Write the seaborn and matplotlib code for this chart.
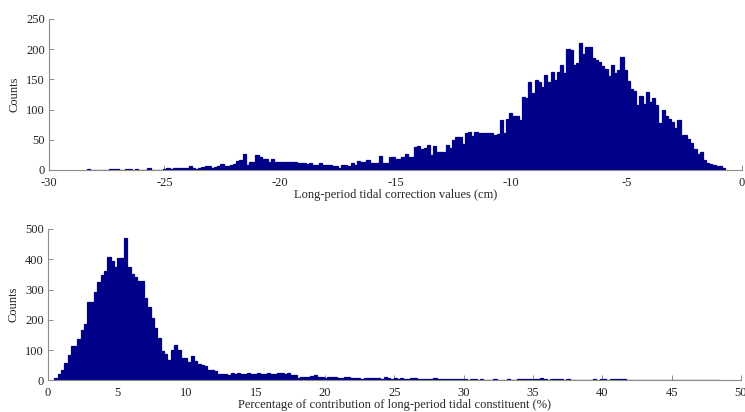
import numpy as np
import pandas as pd
import matplotlib
matplotlib.use("Agg")
import matplotlib.pyplot as plt
import seaborn as sns

# bin ranges (first / last bar edges)
corr_lo, corr_hi = -28.35, -0.72
pct_lo, pct_hi = 0.45, 48.45

# counts per bin, long-period tidal correction values (cm)
corr_counts = [
    2, 0, 0, 0, 0, 0, 0, 2, 2, 1, 0, 0, 1, 1, 0, 1, 0, 0, 0, 4,
    0, 0, 0, 0, 1, 3, 2, 3, 3, 4, 3, 3, 6, 3, 2, 4, 5, 6, 7, 4,
    5, 6, 10, 6, 7, 8, 10, 15, 17, 26, 9,
    13, 13, 25, 22, 18, 18, 14, 18, 14, 14, 14, 13, 14, 14, 14, 12,
    12, 12, 10, 11, 8, 8, 12, 8, 9, 9, 7, 7, 4, 8, 8, 6, 12, 8, 15, 14, 14,
    17, 12, 12, 12, 23, 12, 12, 21, 21, 19, 19, 22, 26, 22, 22,
    38, 39, 34, 36, 41, 24, 39, 30, 29, 29,
    41, 36, 50, 55, 55, 43, 61, 63, 56, 63, 61, 61, 61, 62, 61, 58, 60,
    82, 62, 84, 95, 89, 89, 83, 121, 119, 146, 127, 149, 146, 137, 158,
    146, 163, 149, 163, 174, 160, 200, 198, 174, 177, 211, 192, 204, 204,
    185, 182, 178, 173, 167, 155, 174, 160, 165, 187, 166, 147, 134, 131,
    107, 122, 110, 129, 112, 120, 107, 77, 99, 89, 84, 79, 69, 82, 58, 58,
    51, 45, 34, 27, 30, 17, 11, 10, 8, 7, 6, 4,
]

# counts per bin, percentage of contribution of long-period constituent (%)
pct_counts = [
    7, 20, 35, 57, 84, 115, 115, 137, 168, 188, 260, 260, 291, 325, 349,
    362, 408, 393, 373, 404, 404, 470, 375, 353, 342, 327, 329, 272, 241,
    205, 174, 141, 97, 88, 68, 102, 117, 99, 75, 73, 62, 80, 65,
    54, 50, 47, 36, 33, 31, 23, 21, 20, 19, 26, 23, 25, 22, 21, 25, 23, 20,
    26, 22, 23, 26, 21, 22, 24, 25, 23, 24, 19, 17, 9, 10, 12, 11, 14, 18,
    13, 12, 9, 10, 11, 12, 7, 8, 11, 10, 9, 8, 7, 6, 7, 8, 9, 8, 7, 6, 10,
    7, 6, 8, 5, 7, 6, 5, 7, 8, 6, 5, 6, 4, 5, 7, 5, 4, 6, 5, 4, 6, 5, 4,
    5, 3, 4, 5, 3, 4, 2, 3, 3, 4, 3, 2, 3, 4, 3, 3, 4, 6, 6, 5, 6,
    5, 4, 7, 4, 3, 4, 4, 4, 4, 3, 6, 3, 2, 1, 0, 0, 1, 3, 4, 3, 4,
    4, 3, 4, 4, 5, 4, 6, 3, 3, 2, 0, 0, 0, 2, 0, 2, 0, 0, 0, 1, 0,
    1, 0, 0, 2, 0, 0, 0, 0, 1, 0, 0, 0, 0, 0,
]

bar_color = "#000088"

sns.set_style("ticks")
plt.rcParams["font.family"] = ["Liberation Serif", "DejaVu Serif"]
plt.rcParams["axes.unicode_minus"] = False


def draw_hist(ax, counts, lo, hi):
    edges = np.linspace(lo, hi, len(counts) + 1)
    df = pd.DataFrame({"x": (edges[:-1] + edges[1:]) / 2, "n": counts})
    sns.histplot(data=df, x="x", weights="n", bins=len(counts),
                 binrange=(lo, hi), ax=ax,
                 color=bar_color, edgecolor=bar_color, linewidth=0.9,
                 alpha=1, element="bars")
    sns.despine(ax=ax)
    for s in ["left", "bottom"]:
        ax.spines[s].set_color("#8c8c8c")
        ax.spines[s].set_linewidth(0.8)
    ax.tick_params(direction="in", length=3.5, width=0.7, color="#8c8c8c",
                   labelsize=9, labelcolor="#222222")
    ax.tick_params(axis="x", pad=5)
    ax.tick_params(axis="y", pad=3)
    ax.set_ylabel("Counts", fontsize=9, labelpad=4)


fig = plt.figure(figsize=(7.45, 4.12), dpi=100)
ax1 = fig.add_axes([0.0658, 0.5874, 0.9298, 0.3665])
ax2 = fig.add_axes([0.0644, 0.0765, 0.9302, 0.3677])

draw_hist(ax1, corr_counts, corr_lo, corr_hi)
ax1.set_xlim(-30, 0)
ax1.set_ylim(0, 250)
ax1.set_xticks(range(-30, 1, 5))
ax1.set_yticks(range(0, 251, 50))
ax1.set_xlabel("Long-period tidal correction values (cm)", fontsize=9, labelpad=0)

draw_hist(ax2, pct_counts, pct_lo, pct_hi)
ax2.set_xlim(0, 50)
ax2.set_ylim(0, 500)
ax2.set_xticks(range(0, 51, 5))
ax2.set_yticks(range(0, 501, 100))
ax2.set_xlabel("Percentage of contribution of long-period tidal constituent (%)",
               fontsize=9, labelpad=0)

fig.savefig("out.png", dpi=100)
